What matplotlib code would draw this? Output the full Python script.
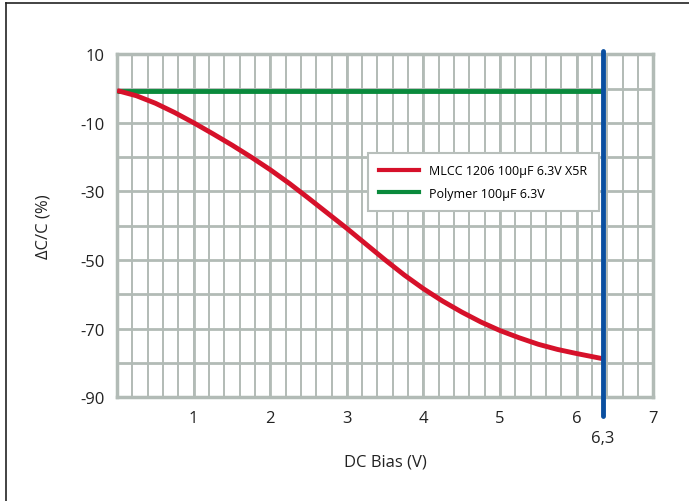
import numpy as np
import matplotlib.pyplot as plt
from matplotlib.lines import Line2D

plt.rcParams['font.family'] = ['Open Sans', 'DejaVu Sans']
plt.rcParams['axes.unicode_minus'] = False

# data
bias_v = [0.0, 0.25, 0.5, 0.75, 1.0, 1.25, 1.5, 1.75, 2.0, 2.25, 2.5, 2.75, 3.0,
          3.25, 3.5, 3.75, 4.0, 4.25, 4.5, 4.75, 5.0, 5.25, 5.5, 5.75, 6.0, 6.34]
mlcc_dc = [-0.6, -2.1, -4.3, -7.0, -10.0, -13.2, -16.5, -20.0, -23.7, -27.7, -32.0,
           -36.4, -40.8, -45.4, -50.0, -54.4, -58.4, -62.0, -65.2, -68.1, -70.6,
           -72.7, -74.6, -76.1, -77.3, -78.8]
poly_bias = [0.0, 6.34]
poly_dc = [-0.6, -0.6]
rated_v = 6.34
rated_label = "6,3"

x_ticks = [1, 2, 3, 4, 5, 6, 7]
y_ticks = [10, -10, -30, -50, -70, -90]

grid_col = "#b2bbb6"
red = "#d6112a"
green = "#0a8a3c"
blue = "#0a4fa0"

fig = plt.figure(figsize=(6.89, 5.02), dpi=100)
ax = fig.add_axes([0.170, 0.207, 0.778, 0.683])

ax.set_xlim(0, 7)
ax.set_ylim(-90, 10)

# grid: minor verticals every 0.2, horizontals every 10
for xv in np.arange(0.2, 7.0, 0.2):
    ax.axvline(xv, color=grid_col, lw=1.4, zorder=1)
for xv in range(1, 7):
    ax.axvline(xv, color=grid_col, lw=2.0, zorder=1)
for yv in range(-80, 10, 10):
    ax.axhline(yv, color=grid_col, lw=2.0, zorder=1)
for s in ax.spines.values():
    s.set_color(grid_col)
    s.set_linewidth(2.5)

ax.plot(poly_bias, poly_dc, color=green, lw=3.5, zorder=3, solid_capstyle="butt")
ax.plot(bias_v, mlcc_dc, color=red, lw=3.5, zorder=3, solid_capstyle="butt",
        solid_joinstyle="round")
ax.plot([rated_v, rated_v], [10.9, -95.5], color=blue, lw=3.5, zorder=4,
        clip_on=False, solid_capstyle="round")

ax.set_xticks(x_ticks)
ax.set_yticks(y_ticks)
ax.set_yticklabels([str(v) for v in y_ticks])
ax.tick_params(length=0, labelsize=12, colors="#222222", pad=9)
ax.text(rated_v, -99.5, rated_label, ha="center", va="top", fontsize=12, color="#222222")

ax.set_xlabel("DC Bias (V)", fontsize=12, color="#222222", labelpad=20)
ax.set_ylabel("ΔC/C (%)", fontsize=12, color="#222222", labelpad=21)

handles = [Line2D([], [], color=red, lw=3),
           Line2D([], [], color=green, lw=3)]
leg = ax.legend(handles, ["MLCC 1206 100µF 6.3V X5R", "Polymer 100µF 6.3V"],
                loc="upper left", bbox_to_anchor=(0.468, 0.712), fontsize=9,
                fancybox=False, framealpha=1, edgecolor="#b8bfbb",
                handlelength=3.2, borderpad=0.9, labelspacing=0.75,
                borderaxespad=0)
leg.get_frame().set_linewidth(1.5)
leg.set_zorder(5)

# outer frame (left and top visible)
fig.add_artist(Line2D([0.008, 0.008], [0.0, 0.993], color="#222222", lw=1.2,
                      transform=fig.transFigure))
fig.add_artist(Line2D([0.008, 1.0], [0.993, 0.993], color="#222222", lw=1.2,
                      transform=fig.transFigure))

fig.savefig("out.png", dpi=100)
